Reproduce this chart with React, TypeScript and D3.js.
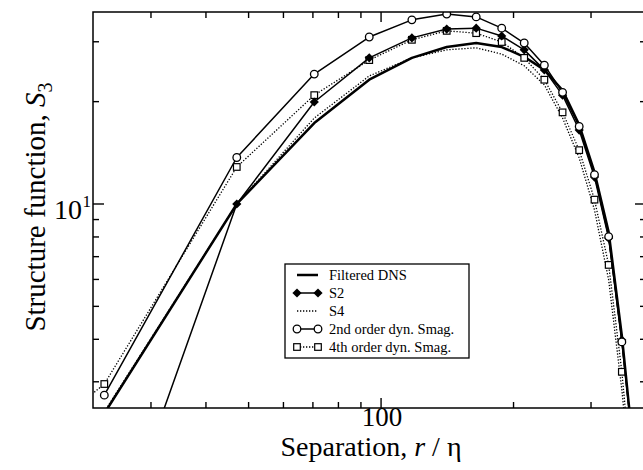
import * as d3 from 'd3';

// separation r/eta of the sampled points
const sep = [23.5, 47, 70.5, 94, 117.5, 141, 164.5, 188, 211.5, 235, 258.5, 282, 305.5, 329, 352.5, 376];
const sep4 = [21.5, 23.5, 47, 70.5, 94, 117.5, 141, 164.5, 188, 211.5, 235, 258.5, 282, 305.5, 329, 352.5, 376];

const filteredDNS = [2.42, 10.0, 17.3, 23.2, 26.9, 28.95, 29.75, 28.95, 27.1, 24.8, 21.6, 17.1, 12.4, 8.27, 4.1, 1.8];
const s2 = [0.8, 10.0, 19.95, 26.9, 30.8, 32.7, 32.9, 31.2, 28.4, 24.8, 20.9, 16.5, 12.0, 7.94, 3.98, 1.8];
const s4 = [2.45, 10.0, 17.9, 23.8, 26.9, 28.4, 28.8, 27.6, 25.5, 22.4, 17.9, 13.66, 9.6, 5.98, 2.84, 1.2];
const dynSmag2 = [2.74, 13.7, 24.1, 30.98, 34.8, 36.2, 35.5, 32.9, 29.75, 25.6, 21.3, 16.9, 12.2, 8.02, 3.93, 1.8];
const dynSmag4 = [2.69, 2.955, 12.85, 20.9, 26.5, 30.4, 32.3, 31.8, 29.95, 26.9, 23.2, 18.6, 14.4, 10.3, 6.62, 3.21, 1.3];

const xMajorTicks = [100];
const xMinorTicks = [30, 40, 50, 60, 70, 80, 90, 200, 300];
const yMajorTicks = [10];
const yMinorTicks = [3, 4, 5, 6, 7, 8, 9, 20, 30];

const legendNames = ['Filtered DNS', 'S2', 'S4', '2nd order dyn. Smag.', '4th order dyn. Smag.'];

const W = 643;
const H = 470;
const plot = { left: 93, right: 646, top: 12, bottom: 408 };
const serif = "'Liberation Serif', Tinos, 'Times New Roman', 'DejaVu Serif', serif";
const serifStyle = { fontFamily: serif };

type Marker = 'none' | 'circle' | 'square' | 'diamond';

function MarkerShape({ kind, x, y }: { kind: Marker; x: number; y: number }) {
    if (kind === 'circle') return <circle cx={x} cy={y} r={3.8} fill="#fff" stroke="#000" strokeWidth={1.3} />;
    if (kind === 'square')
        return <rect x={x - 3.3} y={y - 3.3} width={6.6} height={6.6} fill="#fff" stroke="#000" strokeWidth={1.2} />;
    if (kind === 'diamond')
        return <path d={`M${x},${y - 4.6}L${x + 4.6},${y}L${x},${y + 4.6}L${x - 4.6},${y}Z`} fill="#000" />;
    return null;
}

export default function App() {
    const x = d3.scaleLog().domain([22.15, 400]).range([plot.left, plot.right]);
    const y = d3.scaleLog().domain([2.512, 36.7]).range([plot.bottom, plot.top]);

    const line = d3
        .line<[number, number]>()
        .x((d) => x(d[0]))
        .y((d) => y(d[1]));

    const series = [
        { name: legendNames[0], r: sep, v: filteredDNS, width: 2.5, dash: '', marker: 'none' as Marker },
        { name: legendNames[2], r: sep, v: s4, width: 1.3, dash: '1.3 1.7', marker: 'none' as Marker },
        { name: legendNames[4], r: sep4, v: dynSmag4, width: 1.3, dash: '1.3 1.7', marker: 'square' as Marker },
        { name: legendNames[1], r: sep, v: s2, width: 1.5, dash: '', marker: 'diamond' as Marker },
        { name: legendNames[3], r: sep, v: dynSmag2, width: 1.5, dash: '', marker: 'circle' as Marker },
    ];

    const legendStyle: Record<string, { width: number; dash: string; marker: Marker }> = {};
    series.forEach((s) => (legendStyle[s.name] = { width: s.width, dash: s.dash, marker: s.marker }));

    const legend = { x: 285, y: 264, w: 184, h: 94 };

    return (
        <div style={{ position: 'absolute', left: 0, top: 0 }}>
            <svg width={W} height={H} style={{ display: 'block', background: '#fff' }}>
                <defs>
                    <clipPath id="plotClip">
                        <rect x={plot.left} y={plot.top} width={plot.right - plot.left} height={plot.bottom - plot.top} />
                    </clipPath>
                </defs>

                <g clipPath="url(#plotClip)">
                    {series.map((s) => {
                        const pts = s.r.map((r, i) => [r, s.v[i]] as [number, number]);
                        return (
                            <g key={s.name}>
                                <path
                                    d={line(pts) ?? ''}
                                    fill="none"
                                    stroke="#000"
                                    strokeWidth={s.width}
                                    strokeDasharray={s.dash || undefined}
                                    strokeLinejoin="round"
                                />
                                {pts.map((p, i) => (
                                    <MarkerShape key={i} kind={s.marker} x={x(p[0])} y={y(p[1])} />
                                ))}
                            </g>
                        );
                    })}
                </g>

                {/* frame */}
                <rect
                    x={plot.left}
                    y={plot.top}
                    width={plot.right - plot.left}
                    height={plot.bottom - plot.top}
                    fill="none"
                    stroke="#000"
                    strokeWidth={1.5}
                />

                {/* x ticks, bottom and top */}
                {xMinorTicks.concat(xMajorTicks).map((t) => {
                    const len = xMajorTicks.includes(t) ? 10 : 6;
                    return (
                        <g key={'x' + t} stroke="#000" strokeWidth={1.4}>
                            <line x1={x(t)} x2={x(t)} y1={plot.bottom} y2={plot.bottom - len} />
                            <line x1={x(t)} x2={x(t)} y1={plot.top} y2={plot.top + len} />
                        </g>
                    );
                })}

                {/* y ticks, left and right */}
                {yMinorTicks.concat(yMajorTicks).map((t) => {
                    const len = yMajorTicks.includes(t) ? 11 : 6;
                    return (
                        <g key={'y' + t} stroke="#000" strokeWidth={1.4}>
                            <line x1={plot.left} x2={plot.left + len} y1={y(t)} y2={y(t)} />
                            <line x1={plot.right} x2={plot.right - len} y1={y(t)} y2={y(t)} />
                        </g>
                    );
                })}

                {/* tick labels */}
                {xMajorTicks.map((t) => (
                    <text key={'xl' + t} x={x(t) + 1} y={426} textAnchor="middle" style={serifStyle} fontSize={27}>
                        {t}
                    </text>
                ))}
                {yMajorTicks.map((t) => (
                    <g key={'yl' + t} style={serifStyle}>
                        <text x={82} y={y(t) + 15} textAnchor="end" fontSize={28}>
                            10
                        </text>
                        <text x={82.5} y={y(t) + 3} fontSize={17}>
                            {Math.round(Math.log10(t))}
                        </text>
                    </g>
                ))}

                {/* axis titles */}
                <text x={371} y={456} textAnchor="middle" style={serifStyle} fontSize={28}>
                    Separation,{' '}
                    <tspan fontStyle="italic">r</tspan> / η
                </text>
                <text transform="translate(45,207) rotate(-90)" textAnchor="middle" style={serifStyle} fontSize={29}>
                    Structure function, <tspan fontStyle="italic">S</tspan>
                    <tspan fontSize={20} dy={7}>
                        3
                    </tspan>
                </text>

                {/* legend */}
                <rect x={legend.x} y={legend.y} width={legend.w} height={legend.h} fill="#fff" stroke="#000" strokeWidth={1.3} />
                {legendNames.map((name, i) => {
                    const st = legendStyle[name];
                    const cy = legend.y + 11 + i * 18;
                    return (
                        <g key={name}>
                            <line
                                x1={297}
                                x2={318}
                                y1={cy}
                                y2={cy}
                                stroke="#000"
                                strokeWidth={st.width}
                                strokeDasharray={st.dash || undefined}
                            />
                            {st.marker !== 'none' && (
                                <>
                                    <MarkerShape kind={st.marker} x={297} y={cy} />
                                    <MarkerShape kind={st.marker} x={318} y={cy} />
                                </>
                            )}
                            <text x={329} y={cy + 5} style={serifStyle} fontSize={14.5}>
                                {name}
                            </text>
                        </g>
                    );
                })}
            </svg>
        </div>
    );
}
